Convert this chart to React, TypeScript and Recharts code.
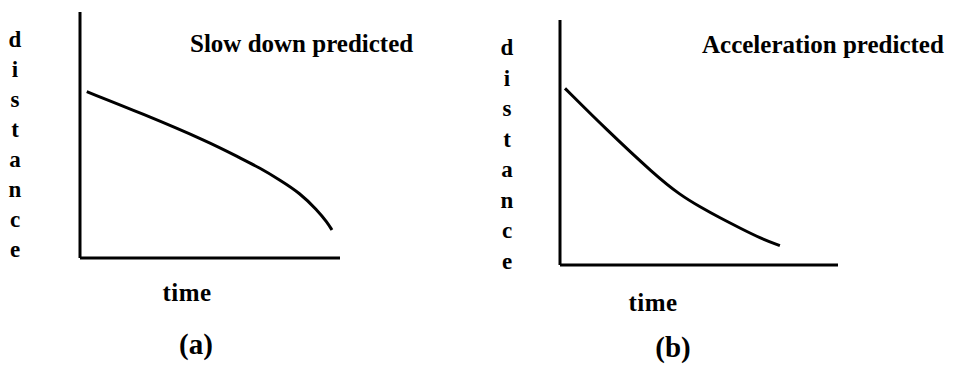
import { LineChart, Line, XAxis, YAxis, Label } from 'recharts';

const slowTime = [2.6, 23.7, 49.3, 61.5, 69.2, 76.9, 84.6, 91.2, 95.0, 96.9];
const slowDistance = [67.6, 58.8, 47.3, 40.7, 36.6, 31.7, 26.4, 19.5, 14.6, 11.4];

const accelTime = [1.8, 16.2, 34.2, 43.2, 50.4, 57.6, 64.7, 71.9, 79.1];
const accelDistance = [72.1, 55.8, 36.7, 28.6, 23.7, 19.2, 15.1, 11.0, 7.9];

const yLetters = ['d', 'i', 's', 't', 'a', 'n', 'c', 'e'];
const xTitle = 'time';
const titles = ['Slow down predicted', 'Acceleration predicted'];
const tags = ['(a)', '(b)'];

const font = '"Liberation Serif", "Times New Roman", serif';

const toRows = (t: number[], d: number[]) => t.map((x, i) => ({ time: x, distance: d[i] }));

type TextPos = {
  lettersX: number;
  lettersY: number;
  lettersStep: number;
  titleX: number;
  titleY: number;
  timeX: number;
  timeY: number;
  tagX: number;
  tagY: number;
};

function Texts({ title, tag, pos }: { title: string; tag: string; pos: TextPos }) {
  return (
    <g style={{ fontFamily: font, fontWeight: 'bold' }} fill="#000">
      {yLetters.map((ch, i) => (
        <text key={i} x={pos.lettersX} y={pos.lettersY + i * pos.lettersStep} fontSize={23} textAnchor="middle">
          {ch}
        </text>
      ))}
      <text x={pos.titleX} y={pos.titleY} fontSize={25}>
        {title}
      </text>
      <text x={pos.timeX} y={pos.timeY} fontSize={25} letterSpacing={0.5} textAnchor="middle">
        {xTitle}
      </text>
      <text x={pos.tagX} y={pos.tagY} fontSize={29} textAnchor="middle">
        {tag}
      </text>
    </g>
  );
}

function Panel({
  rows,
  width,
  margin,
  title,
  tag,
  pos,
}: {
  rows: { time: number; distance: number }[];
  width: number;
  margin: { top: number; right: number; bottom: number; left: number };
  title: string;
  tag: string;
  pos: TextPos;
}) {
  return (
    <LineChart width={width} height={365} data={rows} margin={margin}>
      <XAxis
        type="number"
        dataKey="time"
        domain={[0, 100]}
        height={1}
        tick={false}
        tickLine={false}
        axisLine={{ stroke: '#000', strokeWidth: 3 }}
      >
        <Label content={() => <Texts title={title} tag={tag} pos={pos} />} />
      </XAxis>
      <YAxis
        type="number"
        domain={[0, 100]}
        width={1}
        tick={false}
        tickLine={false}
        axisLine={{ stroke: '#000', strokeWidth: 3 }}
      />
      <Line
        type="basis"
        dataKey="distance"
        stroke="#000"
        strokeWidth={3}
        dot={false}
        isAnimationActive={false}
      />
    </LineChart>
  );
}

export default function App() {
  return (
    <div style={{ position: 'absolute', left: 0, top: 0, width: 955, height: 365, background: '#fff' }}>
      <div style={{ position: 'absolute', left: 0, top: 0 }}>
        <Panel
          rows={toRows(slowTime, slowDistance)}
          width={475}
          margin={{ top: 12, right: 135, bottom: 106, left: 79 }}
          title={titles[0]}
          tag={tags[0]}
          pos={{
            lettersX: 15,
            lettersY: 47,
            lettersStep: 30,
            titleX: 190,
            titleY: 52,
            timeX: 187,
            timeY: 301,
            tagX: 196,
            tagY: 354,
          }}
        />
      </div>
      <div style={{ position: 'absolute', left: 475, top: 0 }}>
        <Panel
          rows={toRows(accelTime, accelDistance)}
          width={480}
          margin={{ top: 20, right: 117, bottom: 99, left: 84 }}
          title={titles[1]}
          tag={tags[1]}
          pos={{
            lettersX: 32,
            lettersY: 55,
            lettersStep: 30.5,
            titleX: 227,
            titleY: 53,
            timeX: 178,
            timeY: 311,
            tagX: 198,
            tagY: 357,
          }}
        />
      </div>
    </div>
  );
}
